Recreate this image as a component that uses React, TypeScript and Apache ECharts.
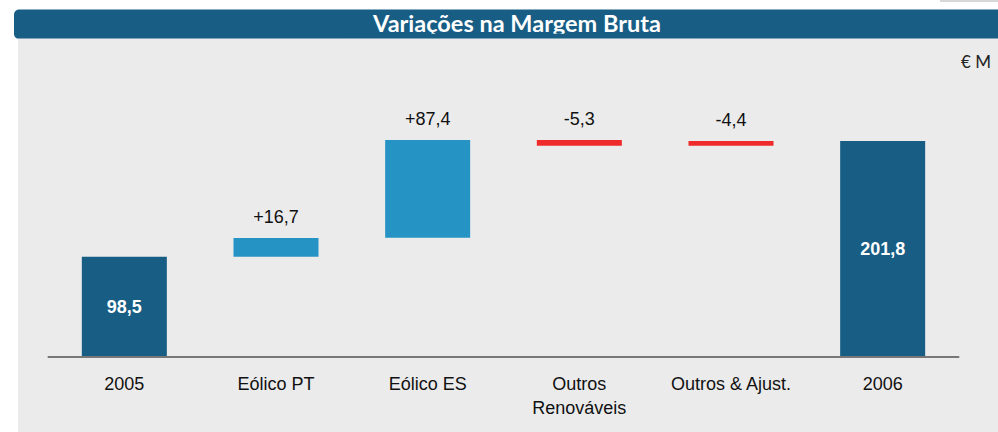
import React, { useEffect, useRef } from "react";
import * as echarts from "echarts";

const categories = ["2005", "Eólico PT", "Eólico ES", "Outros\nRenováveis", "Outros & Ajust.", "2006"];
const valueLabels = ["98,5", "+16,7", "+87,4", "-5,3", "-4,4", "201,8"];
// bar extents as drawn in the picture (in € M)
const barStart = [0, 93.4, 111.2, 197.4, 197.4, 0];
const barEnd = [93.4, 111.0, 202.7, 202.7, 201.8, 201.8];
const barKinds = ["total", "up", "up", "down", "down", "total"];
const titleText = "Variações na Margem Bruta";
const unitText = "€ M";

const COLORS: Record<string, string> = {
  total: "#175d84",
  up: "#2693c5",
  down: "#ee2a2a",
};

const FONT = "'Liberation Sans', Arial, Helvetica, sans-serif";

export default function App() {
  const ref = useRef<HTMLDivElement>(null);
  useEffect(() => {
    if (!ref.current) return;
    const chart = echarts.init(ref.current, undefined, { renderer: "svg" });
    const baseData = barStart.map((s, i) => Math.min(s, barEnd[i]));
    const sizeData = barStart.map((s, i) => ({
      value: Math.abs(barEnd[i] - s),
      itemStyle: { color: COLORS[barKinds[i]] },
      label:
        barKinds[i] === "total"
          ? { position: "inside", color: "#ffffff", fontWeight: "bold" }
          : { position: "top", color: "#111111", fontWeight: "normal", distance: 12 },
    }));
    chart.setOption({
      animation: false,
      backgroundColor: "#ffffff",
      graphic: [
        { type: "rect", z: 0, shape: { x: 940, y: 0, width: 60, height: 2 }, style: { fill: "#d8d8d8" } },
        { type: "rect", z: 0, shape: { x: 14, y: 9.5, width: 1000, height: 29.5, r: 5 }, style: { fill: "#175d84" } },
        {
          type: "text",
          z: 1,
          x: 517,
          y: 22.8,
          style: {
            text: titleText,
            fill: "#ffffff",
            font: "bold 23.5px Lato, 'Noto Sans', sans-serif",
            textAlign: "center",
            textVerticalAlign: "middle",
          },
        },
        { type: "rect", z: 1.5, shape: { x: 340, y: 33.7, width: 360, height: 5 }, style: { fill: "#175d84" } },
        { type: "rect", z: 2, shape: { x: 18, y: 38.5, width: 990, height: 400 }, style: { fill: "#ebebeb" } },
        {
          type: "text",
          z: 3,
          x: 991,
          y: 61,
          style: {
            text: unitText,
            fill: "#222222",
            font: "17px Lato, 'Noto Sans', sans-serif",
            textAlign: "right",
            textVerticalAlign: "middle",
          },
        },
      ],
      grid: { left: 48.5, right: 39.5, top: 36.1, bottom: 75.5, containLabel: false },
      xAxis: {
        type: "category",
        data: categories,
        z: 5,
        axisLine: { show: true, lineStyle: { color: "#777777", width: 2 } },
        axisTick: { show: false },
        axisLabel: {
          interval: 0,
          margin: 15,
          color: "#111111",
          fontFamily: FONT,
          fontSize: 18,
          lineHeight: 24,
        },
      },
      yAxis: {
        type: "value",
        min: 0,
        max: 300,
        show: false,
        splitLine: { show: false },
      },
      series: [
        {
          type: "bar",
          stack: "w",
          z: 3,
          barWidth: 85,
          silent: true,
          itemStyle: { color: "transparent" },
          data: baseData,
        },
        {
          type: "bar",
          stack: "w",
          z: 3,
          barWidth: 85,
          data: sizeData,
          label: {
            show: true,
            fontFamily: FONT,
            fontSize: 18,
            formatter: (p: any) => valueLabels[p.dataIndex],
          },
        },
      ],
    });
    return () => chart.dispose();
  }, []);
  return <div ref={ref} style={{ position: "absolute", left: 0, top: 0, width: 998, height: 432 }} />;
}
